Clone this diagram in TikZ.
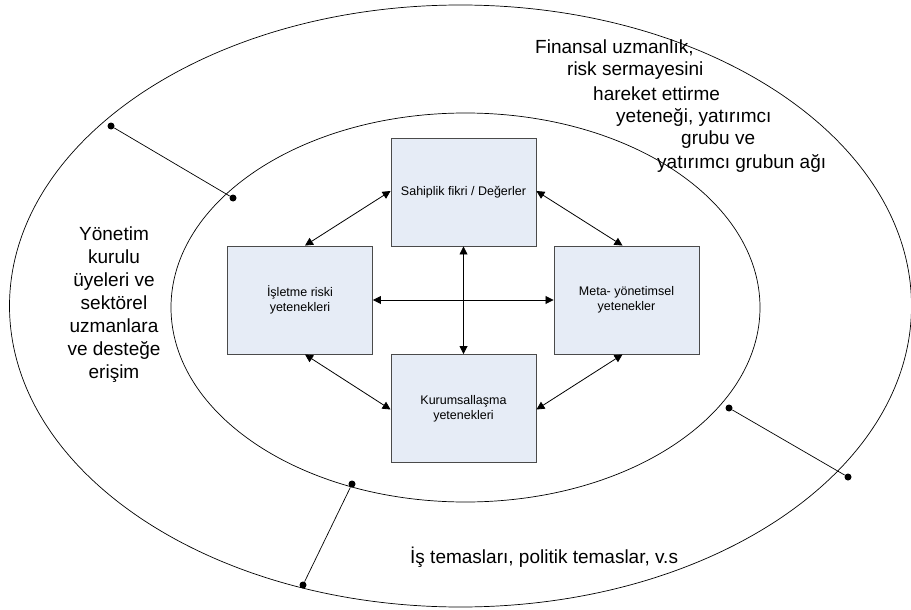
\documentclass[tikz,border=0pt]{standalone}
\usepackage{fontspec}
\setmainfont{Liberation Sans}
\usetikzlibrary{arrows.meta}
\definecolor{boxfill}{HTML}{E6ECF6}
\definecolor{boxline}{HTML}{4A4A4A}
\tikzset{
  capbox/.style={draw=boxline, line width=0.9pt, fill=boxfill, minimum width=145pt, minimum height=108pt, inner sep=0pt, align=center, font=\fontsize{12.5pt}{15pt}\selectfont},
  biarrow/.style={line width=0.8pt, {Triangle[length=8pt,width=8pt]}-{Triangle[length=8pt,width=8pt]}},
  ring/.style={line width=0.7pt},
  dotnode/.style={circle, fill=black, inner sep=0pt, minimum size=7pt},
  link/.style={line width=0.7pt},
  bigtext/.style={font=\fontsize{19pt}{23pt}\selectfont, inner sep=0pt, align=center},
}
\begin{document}
\begin{tikzpicture}[x=1pt, y=-1pt]
\useasboundingbox (0,0) rectangle (911,610);
% rings
\draw[ring] (460.5,306) ellipse [x radius=451pt, y radius=301pt];
\draw[ring] (465.5,307.5) ellipse [x radius=294.5pt, y radius=194.5pt];
% boxes
\node[capbox] (top) at (463.5,192) {Sahiplik fikri / Değerler};
\node[capbox] (left) at (300,300) {İşletme riski\\yetenekleri};
\node[capbox] (right) at (626.5,300) {Meta- yönetimsel\\yetenekler};
\node[capbox] (bottom) at (463.5,408.5) {Kurumsallaşma\\yetenekleri};
% arrows
\draw[biarrow] ([yshift=1pt]top.west) -- ([xshift=5pt]left.north);
\draw[biarrow] ([yshift=1pt]top.east) -- ([xshift=-4pt]right.north);
\draw[biarrow] ([xshift=5pt]left.south) -- ([yshift=-1pt]bottom.west);
\draw[biarrow] ([xshift=-4pt]right.south) -- ([yshift=-1pt]bottom.east);
\draw[biarrow] (left.east) -- (right.west);
\draw[biarrow] (top.south) -- (bottom.north);
% dot connectors
\node[dotnode] (d1) at (111,126) {};
\node[dotnode] (d2) at (233,198) {};
\node[dotnode] (d3) at (352,484) {};
\node[dotnode] (d4) at (303,585) {};
\node[dotnode] (d5) at (729,408) {};
\node[dotnode] (d6) at (848,477) {};
\draw[link] (d1) -- (d2);
\draw[link] (d3) -- (d4);
\draw[link] (d5) -- (d6);
% texts
\node[bigtext] (lefttext) at (114,305) {Yönetim\\kurulu\\üyeleri ve\\sektörel\\uzmanlara\\ve desteğe\\erişim};
\node[bigtext, anchor=west] (t1) at (535,47.7) {Finansal uzmanlık,};
\node[bigtext, anchor=west] (t2) at (567,71) {risk sermayesini};
\node[bigtext, anchor=west] (t3) at (593,93.5) {hareket ettirme};
\node[bigtext, anchor=west] (t4) at (616,117) {yeteneği, yatırımcı};
\node[bigtext, anchor=west] (t5) at (681,140) {grubu ve};
\node[bigtext, anchor=west] (t6) at (657,163) {yatırımcı grubun ağı};
\node[bigtext, anchor=west] (bottomtext) at (410,557) {İş temasları, politik temaslar, v.s};
\end{tikzpicture}
\end{document}
